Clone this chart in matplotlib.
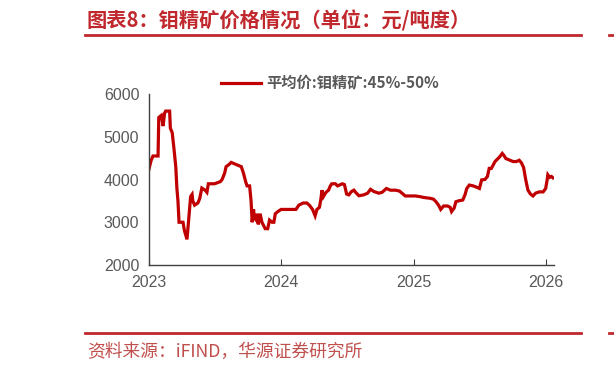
import matplotlib
matplotlib.use("Agg")
import matplotlib.pyplot as plt
import matplotlib.dates as mdates
from matplotlib.lines import Line2D
import pandas as pd

# 钼精矿 45%-50% 平均价, 元/吨度
dates = [
    "2023-01-01", "2023-01-07", "2023-01-12", "2023-01-26", "2023-01-28", "2023-02-04",
    "2023-02-09", "2023-02-13", "2023-02-16", "2023-02-27", "2023-03-01", "2023-03-06",
    "2023-03-10", "2023-03-16", "2023-03-19", "2023-03-22", "2023-03-25", "2023-04-05",
    "2023-04-09", "2023-04-16", "2023-04-20", "2023-04-23", "2023-04-26", "2023-04-30",
    "2023-05-02", "2023-05-07", "2023-05-16", "2023-05-21", "2023-05-27", "2023-06-05",
    "2023-06-10", "2023-06-14", "2023-07-01", "2023-07-17", "2023-07-22", "2023-07-29",
    "2023-08-02", "2023-08-10", "2023-08-16", "2023-08-30", "2023-09-13", "2023-09-19",
    "2023-09-25", "2023-09-29", "2023-10-06", "2023-10-10", "2023-10-13", "2023-10-17",
    "2023-10-19", "2023-10-24", "2023-10-27", "2023-10-30", "2023-11-04", "2023-11-09",
    "2023-11-18", "2023-11-25", "2023-11-30", "2023-12-07", "2023-12-12", "2023-12-16",
    "2023-12-23", "2024-01-01", "2024-02-11", "2024-02-19", "2024-03-02", "2024-03-12",
    "2024-03-19", "2024-03-28", "2024-04-04", "2024-04-09", "2024-04-16", "2024-04-20",
    "2024-04-23", "2024-04-27", "2024-05-04", "2024-05-11", "2024-05-16", "2024-05-20",
    "2024-05-30", "2024-06-05", "2024-06-18", "2024-06-24", "2024-06-30", "2024-07-06",
    "2024-07-13", "2024-07-20", "2024-07-27", "2024-08-03", "2024-08-16", "2024-08-27",
    "2024-09-04", "2024-09-13", "2024-09-27", "2024-10-06", "2024-10-18", "2024-10-29",
    "2024-11-12", "2024-11-23", "2024-11-30", "2024-12-09", "2025-01-06", "2025-01-18",
    "2025-01-29", "2025-02-16", "2025-02-25", "2025-03-04", "2025-03-11", "2025-03-17",
    "2025-03-25", "2025-04-05", "2025-04-12", "2025-04-16", "2025-04-23", "2025-04-28",
    "2025-05-05", "2025-05-17", "2025-05-23", "2025-05-28", "2025-06-04", "2025-06-15",
    "2025-06-24", "2025-07-02", "2025-07-08", "2025-07-17", "2025-07-24", "2025-07-29",
    "2025-08-04", "2025-08-09", "2025-08-14", "2025-08-20", "2025-08-27", "2025-09-03",
    "2025-09-07", "2025-09-13", "2025-09-24", "2025-10-03", "2025-10-12", "2025-10-20",
    "2025-10-26", "2025-11-01", "2025-11-07", "2025-11-13", "2025-11-20", "2025-11-27",
    "2025-12-04", "2025-12-14", "2025-12-25", "2026-01-01", "2026-01-05", "2026-01-07",
    "2026-01-12", "2026-01-17", "2026-01-21",
]
prices = [
    4250, 4450, 4550, 4550, 5450, 5500,
    5250, 5550, 5600, 5600, 5200, 5100,
    4800, 4300, 3800, 3500, 3000, 3000,
    2800, 2600, 3000, 3300, 3600, 3650,
    3500, 3400, 3450, 3550, 3800, 3750,
    3700, 3900, 3900, 3950, 4000, 4150,
    4300, 4350, 4400, 4350, 4300, 4150,
    3950, 3850, 3850, 3500, 3000, 3300,
    3100, 3050, 3200, 2950, 3200, 3000,
    2850, 2850, 3050, 3000, 3000, 3200,
    3250, 3300, 3300, 3400, 3450, 3450,
    3400, 3300, 3150, 3300, 3350, 3550,
    3750, 3600, 3700, 3750, 3850, 3900,
    3900, 3850, 3900, 3880, 3660, 3640,
    3715, 3750, 3680, 3620, 3640, 3680,
    3770, 3720, 3680, 3700, 3790, 3750,
    3750, 3730, 3680, 3615, 3615, 3600,
    3580, 3560, 3540, 3480, 3400, 3300,
    3380, 3380, 3350, 3250, 3330, 3480,
    3500, 3520, 3640, 3790, 3870, 3850,
    3820, 3790, 3990, 4000, 4070, 4260,
    4260, 4340, 4420, 4470, 4530, 4610,
    4570, 4490, 4450, 4420, 4420, 4450,
    4390, 4280, 3990, 3750, 3660, 3615,
    3680, 3710, 3710, 3790, 3990, 4110,
    4050, 4070, 4040,
]
series_name = "平均价:钼精矿:45%-50%"
title = "图表8：钼精矿价格情况（单位：元/吨度）"
source = "资料来源：iFIND，华源证券研究所"

W, H = 614, 371
fig = plt.figure(figsize=(W / 100, H / 100), dpi=100)
ax = fig.add_axes([149 / W, 1 - 265 / H, (554 - 149) / W, (265 - 94) / H])

x = pd.to_datetime(dates)
ax.plot(x, prices, color="#C00000", lw=2.3, solid_joinstyle="miter", label=series_name)

ax.set_xlim(pd.Timestamp("2023-01-01"), pd.Timestamp("2026-01-24"))
ax.set_ylim(2000, 6000)
ax.set_yticks([2000, 3000, 4000, 5000, 6000])
ax.xaxis.set_major_locator(mdates.YearLocator())
ax.xaxis.set_major_formatter(mdates.DateFormatter("%Y"))

for s in ["top", "right"]:
    ax.spines[s].set_visible(False)
for s in ["left", "bottom"]:
    ax.spines[s].set_color("#404040")
    ax.spines[s].set_linewidth(1.0)
ax.tick_params(axis="y", length=0, pad=7, labelsize=11.5, labelcolor="#595959")
ax.tick_params(axis="x", direction="in", length=4, color="#404040", pad=7,
               labelsize=11.5, labelcolor="#595959")
for lab in ax.get_xticklabels() + ax.get_yticklabels():
    lab.set_family(["Liberation Sans", "DejaVu Sans"])

leg = ax.legend(loc="center left", bbox_to_anchor=(215 / W, 1 - 83 / H),
                bbox_transform=fig.transFigure, frameon=False, handlelength=2.6,
                handletextpad=0.35, borderaxespad=0,
                prop={"family": ["Noto Sans CJK SC", "DejaVu Sans"], "weight": "bold", "size": 11})
for t in leg.get_texts():
    t.set_color("#595959")

# title / source block
red = "#C0282D"
fig.text(87 / W, 1 - 21 / H, title, color=red, fontsize=14.6, fontweight="bold",
         family=["Noto Sans CJK SC", "DejaVu Sans"], va="center", ha="left")
fig.text(87 / W, 1 - 352 / H, source, color="#C0504D", fontsize=12.8,
         family=["Noto Sans CJK SC", "DejaVu Sans"], va="center", ha="left")
for yy in [35, 333]:
    fig.add_artist(Line2D([85 / W, 581 / W], [1 - yy / H] * 2, color=red, lw=2))
    fig.add_artist(Line2D([609 / W, 1.0], [1 - yy / H] * 2, color=red, lw=2))

fig.savefig("out.png", dpi=100)
